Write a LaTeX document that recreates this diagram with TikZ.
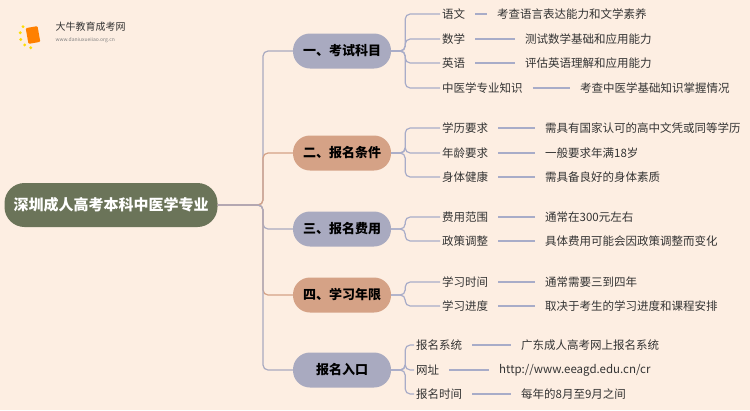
\documentclass[tikz,border=0pt]{standalone}
\usepackage{fontspec}
\setmainfont{Noto Sans CJK SC}
\usetikzlibrary{positioning}
\definecolor{bg}{HTML}{FDEEE2}
\definecolor{rootc}{HTML}{6B7459}
\definecolor{blu}{HTML}{A9AAC0}
\definecolor{sal}{HTML}{D5A286}
\definecolor{lnc}{HTML}{A8ACC8}
\definecolor{txt}{HTML}{333333}

\begin{document}
\begin{tikzpicture}[x=1pt, y=-1pt,
    root/.style = {fill=rootc, rounded corners=20pt, minimum width=213pt, minimum height=44pt, text=white, font=\bfseries\fontsize{15}{15}\selectfont},
    branch/.style = {rounded corners=17pt, minimum width=98pt, minimum height=35pt, text=black, font=\bfseries\fontsize{13}{13}\selectfont},
    leaf/.style = {anchor=west, inner sep=2pt, text=txt, font=\fontsize{11.5}{12}\selectfont},
    link/.style = {draw=lnc, line width=1.2pt, rounded corners=5pt}]
    \fill[bg] (0,0) rectangle (750,410);
    % logo
    \foreach \a in {100,130,...,220}
      \fill[yellow!80!orange] (33,35) ++(\a:13) circle (1.6pt);
    \node[fill=orange, rotate=10, minimum width=12pt, minimum height=16pt, inner sep=0pt, rounded corners=1pt] (logo) at (33,35) {};
    \node[anchor=west, font=\fontsize{10}{10}\selectfont, text=txt] (logot) at (52,27) {大牛教育成考网};
    \node[anchor=west, font=\fontsize{5}{5}\selectfont, text=gray] (logou) at (52,40) {www.daniuxueiiao.org.cn};
    \node[root] (root) at (111,205) {深圳成人高考本科中医学专业};
    % branches
    \node[branch, fill=blu] (b1) at (342,51) {一、考试科目};
    \node[branch, fill=sal] (b2) at (342,153) {二、报名条件};
    \node[branch, fill=blu] (b3) at (342,229) {三、报名费用};
    \node[branch, fill=sal] (b4) at (342,295) {四、学习年限};
    \node[branch, fill=blu] (b5) at (342,370) {报名入口};
    \foreach \b/\c in {b1/blu, b2/sal, b3/blu, b4/sal, b5/blu}
      \draw[line width=1.2pt, draw=\c, rounded corners=5pt] (root.east) -- (263,205) |- (\b.west);
    % leaves
    \foreach \b/\y/\name/\w/\x/\detail in {
        b1/14/语文/440/495/考查语言表达能力和文学素养,
        b1/39/数学/440/523/测试数学基础和应用能力,
        b1/63/英语/440/523/评估英语理解和应用能力,
        b1/88/中医学专业知识/440/578/考查中医学基础知识掌握情况,
        b2/128/学历要求/440/543/需具有国家认可的高中文凭或同等学历,
        b2/153/年龄要求/440/543/一般要求年满18岁,
        b2/177/身体健康/440/543/需具备良好的身体素质,
        b3/217/费用范围/440/543/通常在300元左右,
        b3/241/政策调整/440/543/具体费用可能会因政策调整而变化,
        b4/282/学习时间/440/543/通常需要三到四年,
        b4/306/学习进度/440/543/取决于考生的学习进度和课程安排,
        b5/345/报名系统/414/519/广东成人高考网上报名系统,
        b5/370/网址/414/497/{http://www.eeagd.edu.cn/cr},
        b5/394/报名时间/414/519/每年的8月至9月之间} {
      \node[leaf] (n\y) at (\w,\y) {\name};
      \node[leaf] (d\y) at (\x,\y) {\detail};
      \draw[link] (\b.east) -- ++(14,0) |- (n\y.west);
      \draw[link] ([xshift=8pt]n\y.east) -- ([xshift=-8pt]d\y.west);
    }
\end{tikzpicture}
\end{document}
